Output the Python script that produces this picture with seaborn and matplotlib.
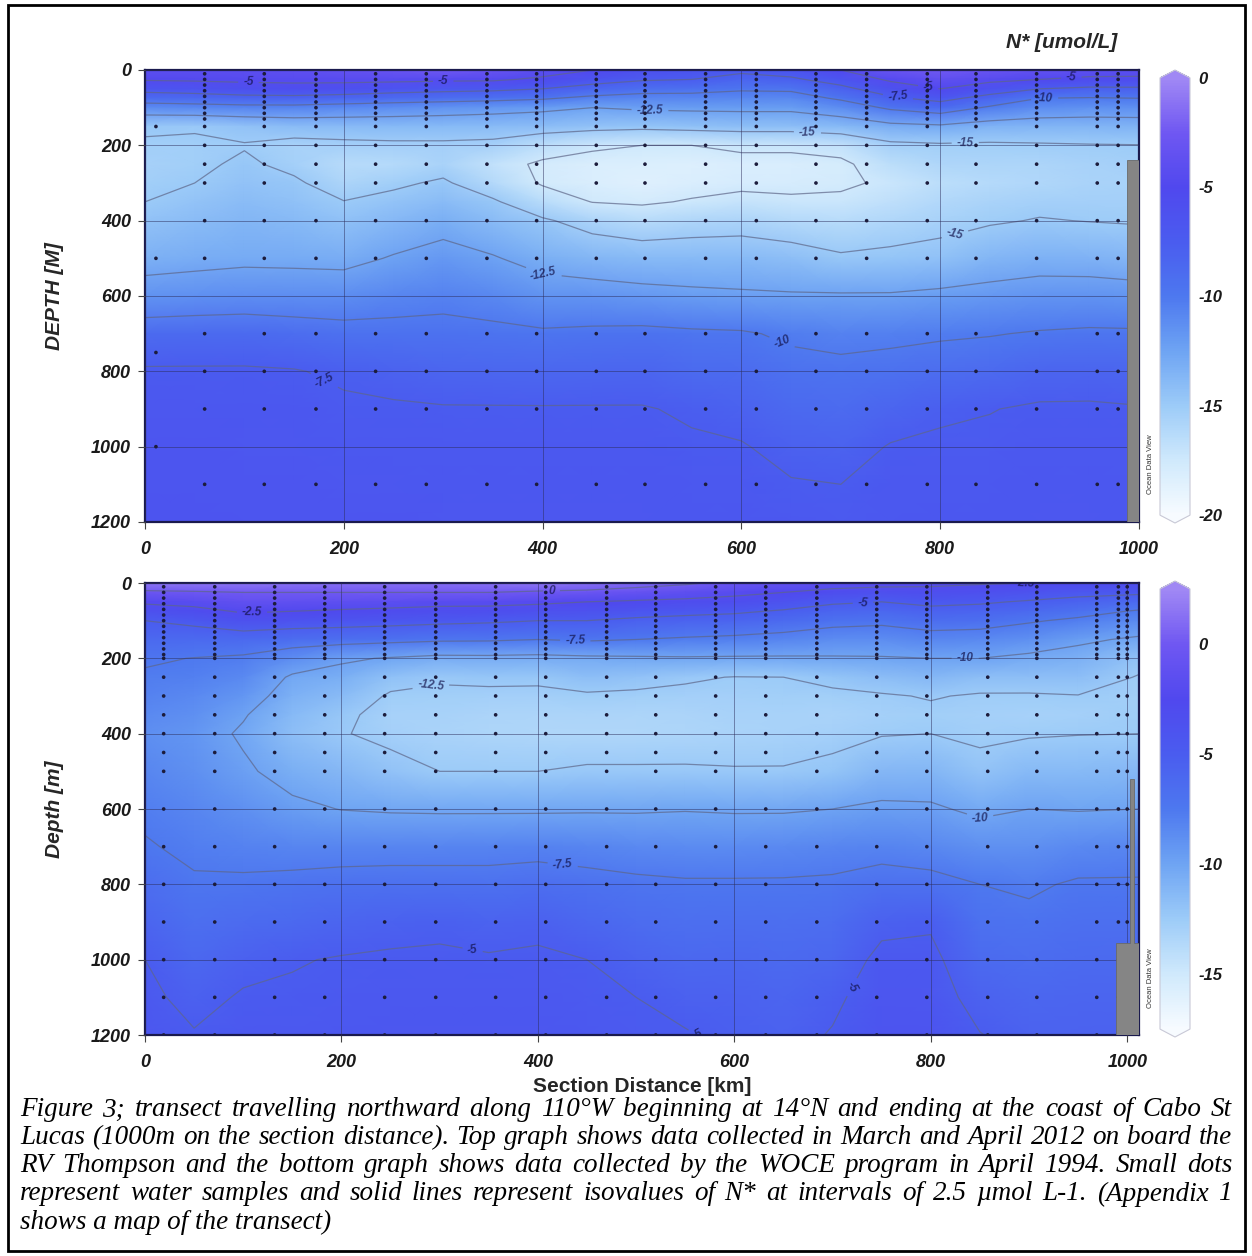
import numpy as np
import pandas as pd
import matplotlib
matplotlib.use("Agg")
import matplotlib.pyplot as plt
import seaborn as sns
from matplotlib.colors import LinearSegmentedColormap, Normalize
from matplotlib.patches import Rectangle, Polygon

sns.set_style("white")
plt.rcParams['font.family'] = ['Liberation Sans', 'DejaVu Sans']
plt.rcParams['axes.unicode_minus'] = False

# ---------------- data ----------------
depth_levels = [0, 25, 50, 75, 100, 150, 200, 250, 300, 350, 400, 500, 600, 700, 800, 900, 1000, 1100, 1200]

# 2012 section (RV Thompson) - N* profiles, one list per distance column
dist_2012 = [0, 50, 100, 150, 200, 250, 300, 350, 400, 450, 500, 550, 600, 650, 700, 750, 800, 850, 900, 950, 1000]
nstar_2012 = [
    [-4.0, -4.8, -6.7, -8.85, -11.1, -14.7, -15.25, -15.5, -15.25, -15.0, -14.45, -13.3, -11.55, -8.85, -7.3, -6.8, -6.7, -6.6, -6.5],
    [-4.0, -4.7, -6.4, -8.65, -10.9, -14.85, -15.25, -15.3, -15.0, -14.5, -14.05, -13.1, -11.35, -8.75, -7.3, -6.8, -6.7, -6.6, -6.5],
    [-4.0, -4.6, -5.9, -8.3, -10.7, -14.4, -15.1, -14.75, -14.4, -14.0, -13.65, -12.9, -11.2, -8.7, -7.3, -6.9, -6.8, -6.7, -6.6],
    [-3.8, -4.5, -5.8, -8.2, -10.7, -14.05, -15.6, -15.4, -14.75, -14.3, -13.85, -12.95, -11.25, -9.0, -7.4, -6.9, -6.8, -6.7, -6.6],
    [-3.5, -4.45, -6.0, -8.5, -11.0, -13.95, -15.45, -16.3, -15.8, -14.95, -14.35, -13.05, -11.25, -9.3, -7.8, -7.2, -7.0, -6.8, -6.7],
    [-3.0, -4.45, -6.5, -8.85, -11.25, -13.9, -15.35, -16.2, -15.3, -14.5, -13.8, -12.35, -10.8, -9.4, -8.1, -7.3, -7.0, -6.8, -6.7],
    [-2.5, -4.6, -6.8, -9.1, -11.5, -13.9, -15.35, -15.7, -14.75, -13.95, -13.2, -11.8, -10.55, -9.4, -8.3, -7.4, -7.1, -6.9, -6.8],
    [-3.0, -4.65, -7.0, -9.35, -11.75, -13.95, -15.5, -16.8, -16.1, -14.75, -13.95, -12.35, -10.9, -9.55, -8.4, -7.4, -7.1, -6.9, -6.8],
    [-4.0, -5.4, -7.5, -9.75, -12.05, -14.1, -16.55, -17.8, -17.7, -16.35, -14.75, -13.2, -11.5, -9.75, -8.5, -7.4, -7.1, -6.9, -6.8],
    [-5.0, -6.55, -8.4, -10.55, -12.5, -14.4, -17.2, -18.15, -18.2, -17.55, -15.75, -13.6, -11.6, -9.6, -8.4, -7.4, -7.1, -6.9, -6.8],
    [-6.0, -7.25, -9.15, -10.85, -12.2, -14.55, -17.5, -18.25, -18.45, -17.75, -16.3, -13.85, -11.85, -9.5, -8.35, -7.4, -7.1, -6.9, -6.8],
    [-6.5, -7.5, -9.3, -10.8, -12.1, -14.35, -17.5, -18.3, -18.15, -17.35, -15.9, -13.9, -12.05, -9.7, -8.7, -7.7, -7.3, -7.0, -6.9],
    [-7.0, -8.35, -9.75, -10.9, -12.05, -14.2, -17.15, -18.05, -17.9, -17.0, -15.75, -13.9, -12.2, -9.8, -8.9, -8.05, -7.4, -7.1, -6.9],
    [-6.5, -7.85, -9.65, -10.9, -12.05, -14.2, -17.15, -18.05, -17.95, -17.2, -16.15, -14.15, -12.3, -10.3, -9.4, -8.65, -7.95, -7.4, -7.1],
    [-5.0, -6.55, -8.1, -9.7, -11.25, -13.85, -16.8, -17.85, -17.75, -17.2, -16.4, -14.75, -12.3, -10.55, -9.55, -8.85, -8.2, -7.5, -7.2],
    [-3.0, -4.65, -6.25, -7.85, -9.65, -13.1, -15.45, -16.5, -17.25, -16.65, -16.0, -14.55, -12.3, -10.45, -9.3, -8.35, -7.4, -7.1, -7.0],
    [-2.5, -3.75, -5.0, -6.8, -8.75, -12.85, -15.25, -15.9, -16.5, -16.05, -15.6, -14.3, -12.05, -10.25, -9.0, -7.8, -7.2, -7.0, -6.9],
    [-3.0, -4.45, -6.25, -8.35, -10.3, -13.45, -15.3, -15.85, -16.2, -15.7, -15.2, -13.6, -11.85, -10.1, -8.8, -7.55, -7.2, -7.0, -6.9],
    [-3.5, -5.0, -7.5, -10.0, -11.25, -13.55, -15.2, -15.8, -16.0, -15.45, -14.9, -13.3, -11.6, -9.85, -8.35, -7.3, -7.0, -6.9, -6.8],
    [-3.8, -5.5, -7.95, -10.15, -11.45, -13.55, -15.1, -15.55, -15.7, -15.35, -15.05, -13.4, -11.55, -9.7, -8.25, -7.3, -7.0, -6.9, -6.8],
    [-4.0, -5.5, -7.9, -10.0, -11.4, -13.5, -15.05, -15.35, -15.55, -15.35, -15.15, -13.75, -11.65, -9.75, -8.4, -7.4, -7.1, -7.0, -6.9],
]

# 1994 section (WOCE)
dist_1994 = [0, 50, 100, 150, 200, 250, 300, 350, 400, 450, 500, 550, 600, 650, 700, 750, 800, 850, 900, 950, 1012]
nstar_1994 = [
    [1.5, -0.35, -2.15, -3.6, -5.0, -6.15, -7.25, -7.75, -8.1, -8.45, -8.8, -8.35, -7.85, -7.35, -6.55, -5.8, -5.0, -4.65, -4.3],
    [1.5, -0.2, -1.75, -3.2, -4.5, -6.2, -7.55, -7.95, -8.45, -8.85, -9.15, -8.9, -8.35, -7.85, -7.3, -6.65, -6.05, -5.45, -4.9],
    [1.5, 0.0, -1.15, -2.25, -3.6, -6.15, -7.8, -8.45, -9.15, -9.85, -10.25, -9.7, -8.85, -8.05, -7.25, -6.4, -5.45, -4.85, -4.6],
    [1.3, 0.0, -1.25, -2.5, -3.9, -6.5, -8.75, -10.25, -10.8, -11.35, -11.7, -10.7, -9.6, -8.25, -7.05, -6.1, -5.1, -4.8, -4.5],
    [1.2, 0.0, -1.4, -2.75, -4.05, -6.7, -9.7, -10.7, -11.45, -12.2, -12.4, -11.2, -10.05, -8.25, -6.85, -5.8, -4.9, -4.65, -4.4],
    [1.2, 0.0, -1.55, -3.0, -4.25, -6.95, -10.15, -11.85, -12.7, -13.0, -12.9, -11.95, -10.2, -8.25, -6.75, -5.5, -4.8, -4.55, -4.3],
    [1.2, 0.0, -1.8, -3.25, -4.5, -7.2, -10.55, -12.3, -12.8, -13.1, -13.15, -12.5, -10.25, -8.25, -6.75, -5.35, -4.75, -4.5, -4.3],
    [1.3, 0.0, -1.8, -3.35, -4.7, -7.25, -10.5, -12.15, -12.85, -13.25, -13.35, -12.5, -10.25, -8.2, -6.8, -5.65, -4.85, -4.6, -4.3],
    [1.5, -0.25, -2.1, -3.6, -5.0, -7.5, -10.6, -12.2, -12.85, -13.3, -13.4, -12.5, -10.25, -8.1, -6.6, -5.4, -4.75, -4.5, -4.3],
    [1.2, -0.4, -2.5, -3.75, -5.0, -7.25, -10.4, -11.7, -12.7, -13.25, -13.4, -12.3, -10.2, -8.25, -6.9, -5.95, -5.0, -4.75, -4.5],
    [0.8, -0.85, -2.8, -4.15, -5.4, -7.5, -10.3, -11.9, -12.8, -13.3, -13.4, -12.3, -10.2, -8.45, -7.15, -6.45, -5.7, -5.0, -4.7],
    [0.3, -1.35, -3.05, -4.45, -5.65, -7.75, -10.2, -12.3, -12.85, -13.25, -13.35, -12.3, -10.1, -8.55, -7.3, -6.7, -6.05, -5.45, -4.9],
    [-0.5, -1.95, -3.35, -4.7, -5.85, -7.95, -10.25, -12.55, -12.85, -13.1, -13.15, -12.4, -10.2, -8.55, -7.3, -6.6, -6.0, -5.6, -5.3],
    [-1.0, -2.5, -3.9, -5.2, -6.25, -8.25, -10.25, -12.5, -12.75, -13.05, -13.1, -12.4, -10.2, -8.45, -7.3, -6.7, -6.2, -5.8, -5.5],
    [-1.5, -3.15, -4.7, -5.85, -6.9, -8.6, -10.2, -12.1, -12.8, -13.15, -12.95, -12.1, -10.0, -8.35, -7.2, -6.55, -5.95, -5.3, -4.9],
    [-1.8, -3.45, -5.0, -6.05, -7.1, -8.7, -10.15, -11.6, -12.65, -12.95, -12.6, -11.2, -9.65, -8.15, -6.75, -5.4, -4.6, -4.25, -4.0],
    [-2.0, -3.3, -4.5, -5.6, -6.55, -8.35, -10.0, -11.2, -12.4, -12.8, -12.5, -11.1, -9.75, -8.4, -6.95, -5.2, -4.6, -4.3, -4.0],
    [-2.3, -3.55, -4.75, -5.75, -6.7, -8.45, -10.0, -11.65, -12.65, -12.95, -12.8, -12.0, -10.35, -8.9, -7.5, -6.85, -6.2, -5.55, -4.95],
    [-2.5, -3.9, -5.2, -6.25, -7.3, -8.9, -10.4, -11.7, -12.65, -13.0, -12.65, -11.4, -10.0, -8.85, -7.75, -7.1, -6.5, -6.0, -5.5],
    [-2.8, -4.35, -5.7, -6.8, -7.85, -9.65, -10.75, -11.65, -12.55, -12.9, -12.55, -11.4, -10.1, -8.5, -7.3, -6.7, -6.2, -5.8, -5.5],
    [-3.0, -4.65, -6.25, -7.7, -8.55, -10.3, -11.9, -12.6, -12.8, -12.65, -12.5, -11.25, -10.0, -8.35, -7.3, -6.7, -6.2, -5.8, -5.5],
]

# sample stations (km) and bottle depths (m)
stations_2012 = [60, 120, 172, 232, 283, 344, 394, 454, 503, 564, 615, 675, 726, 787, 836, 897, 958, 979]
bottles_2012 = [10, 25, 40, 55, 70, 85, 100, 115, 130, 150, 200, 250, 300, 400, 500, 700, 800, 900, 1100]
station_2012_first = 11
bottles_2012_first = [150, 500, 750, 1000]

stations_1994 = [19, 71, 132, 183, 244, 296, 357, 408, 470, 520, 581, 632, 684, 745, 796, 858, 908, 969, 991, 1000]
bottles_1994 = [10, 25, 40, 55, 70, 85, 100, 115, 130, 145, 160, 175, 190, 200, 250, 300, 350, 400, 450, 500,
                600, 700, 800, 900, 1000, 1100, 1200]

# contour levels and colourbar ranges
levels_2012 = [-20, -17.5, -15, -12.5, -10, -7.5, -5, -2.5, 0]
levels_1994 = [-17.5, -15, -12.5, -10, -7.5, -5, -2.5, 0, 2.5]
cbar_ticks_2012 = [0, -5, -10, -15, -20]
cbar_ticks_1994 = [0, -5, -10, -15]

# contour label anchor points (km, m)
labels_2012 = [(104, 40), (300, 8), (790, 8), (932, 22), (757, 80), (905, 72), (508, 107),
               (825, 173), (666, 190), (817, 458), (400, 560), (640, 728), (185, 800)]
labels_1994 = [(109, 83), (414, 21), (438, 155), (290, 255), (731, 53), (896, 16), (835, 200),
               (850, 625), (426, 731), (335, 952), (727, 1083), (569, 1184)]

# bathymetry (grey seafloor at the coast)
bathy_2012_km = [988, 988, 1000, 1000]
bathy_2012_m = [1200, 240, 240, 1200]
bathy_1994_km = [989, 989, 1003, 1003, 1007, 1007, 1012, 1012]
bathy_1994_m = [1200, 955, 955, 520, 520, 955, 955, 1200]

caption_lines = [
    "Figure 3; transect travelling northward along 110°W beginning at 14°N and ending at the coast of Cabo St",
    "Lucas (1000m on the section distance). Top graph shows data collected in March and April 2012 on board the",
    "RV Thompson and the bottom graph shows data collected by the WOCE program in April 1994. Small dots",
    "represent water samples and solid lines represent isovalues of N* at intervals of 2.5 µmol L-1. (Appendix 1",
    "shows a map of the transect)",
]

# ---------------- style ----------------
W, H = 1252, 1256
odv = LinearSegmentedColormap.from_list("odv", [
    (0.000, "#f7fbff"), (0.125, "#cfe9fc"), (0.250, "#9ccbf8"), (0.375, "#6ea4f3"),
    (0.500, "#4d78ef"), (0.625, "#4a5cef"), (0.750, "#5048ee"), (0.875, "#6f57f2"), (1.000, "#a088f4")])

fig = plt.figure(figsize=(W / 100, H / 100), dpi=100)


def fx(px):
    return px / W


def fy(py):
    return 1 - py / H


ax1 = fig.add_axes([fx(145), fy(522), fx(1139) - fx(145), 452 / H])
ax2 = fig.add_axes([fx(145), fy(1035), fx(1139) - fx(145), 452 / H])
cax1 = fig.add_axes([fx(1160), fy(523), 30 / W, 453 / H])
cax2 = fig.add_axes([fx(1160), fy(1037), 30 / W, 456 / H])


def draw_panel(ax, cax, dist, prof, levels, stations, bottles, extra_st, lab_pos,
               bkm, bm, xmax, vmin, vmax, cticks):
    Z = np.array(prof).T
    X, Y = np.meshgrid(dist, depth_levels)
    norm = Normalize(vmin=vmin, vmax=vmax)
    mesh = ax.pcolormesh(X, Y, Z, shading='gouraud', cmap=odv, norm=norm, zorder=1)
    cs = ax.contour(X, Y, Z, levels=levels, colors='#5e6688', linewidths=0.9, alpha=0.7,
                    linestyles='solid', negative_linestyles='solid', zorder=2)
    txts = ax.clabel(cs, inline=True, fmt='%g', fontsize=8.5, colors='#12124a', manual=lab_pos)
    for t in txts:
        t.set_fontweight('bold')
        t.set_fontstyle('italic')
    # sample dots
    rows = [(s, b) for s in stations for b in bottles]
    if extra_st is not None:
        rows += [(extra_st[0], b) for b in extra_st[1]]
    df = pd.DataFrame(rows, columns=['km', 'depth'])
    sns.scatterplot(data=df, x='km', y='depth', ax=ax, s=7, color='#1c1c3c', edgecolor='none',
                    zorder=4, legend=False)
    ax.add_patch(Polygon(list(zip(bkm, bm)), closed=True, fc='#858585', ec='#6a6a6a', lw=0.6, zorder=5))
    ax.set_xlim(0, xmax)
    ax.set_ylim(1200, 0)
    ax.set_xticks([0, 200, 400, 600, 800, 1000])
    ax.set_yticks([0, 200, 400, 600, 800, 1000, 1200])
    ax.grid(True, color='#2c2c5a', lw=0.7, alpha=0.5, zorder=3)
    ax.set_axisbelow(False)
    ax.set_xlabel('')
    ax.set_ylabel('')
    for sp in ax.spines.values():
        sp.set_color('#1a1a4e')
        sp.set_linewidth(1.6)
    ax.tick_params(axis='both', direction='out', length=5, width=0.8, color='#444',
                   left=True, bottom=True)
    ax.tick_params(axis='x', pad=9)
    ax.tick_params(axis='y', pad=5)
    for lbl in ax.get_xticklabels() + ax.get_yticklabels():
        lbl.set_fontweight('bold')
        lbl.set_fontstyle('italic')
        lbl.set_fontsize(13)
        lbl.set_color('#1a1a1a')
    cb = fig.colorbar(mesh, cax=cax, extend='both', extendfrac=0.018, ticks=cticks)
    cb.outline.set_edgecolor('#c9c9d6')
    cb.outline.set_linewidth(0.8)
    cax.tick_params(length=0, pad=6)
    cax.set_yticklabels([str(t) for t in cticks])
    for lbl in cax.get_yticklabels():
        lbl.set_fontweight('bold')
        lbl.set_fontstyle('italic')
        lbl.set_fontsize(12)
        lbl.set_color('#1a1a1a')
    return cb


draw_panel(ax1, cax1, dist_2012, nstar_2012, levels_2012, stations_2012, bottles_2012,
           (station_2012_first, bottles_2012_first), labels_2012,
           bathy_2012_km, bathy_2012_m, 1000, -20, 0, cbar_ticks_2012)
draw_panel(ax2, cax2, dist_1994, nstar_1994, levels_1994, stations_1994, bottles_1994,
           None, labels_1994, bathy_1994_km, bathy_1994_m, 1012, -17.5, 2.5, cbar_ticks_1994)

# texts
fig.text(fx(1062), fy(43), 'N* [umol/L]', fontsize=15, weight='bold', style='italic',
         ha='center', va='center')
fig.text(fx(55), fy(296), 'DEPTH [M]', rotation=90, fontsize=15, weight='bold', style='italic',
         ha='center', va='center')
fig.text(fx(55), fy(809), 'Depth [m]', rotation=90, fontsize=15, weight='bold', style='italic',
         ha='center', va='center')
fig.text(fx(642), fy(1086), 'Section Distance [km]', fontsize=15, weight='bold',
         ha='center', va='center')
for yc in (464, 978):
    fig.text(fx(1150), fy(yc), 'Ocean Data View', rotation=90, fontsize=5.5, color='#333333',
             ha='center', va='center')

# caption (justified)
fig.canvas.draw()
renderer = fig.canvas.get_renderer()
cap_kw = dict(family='Liberation Serif', style='italic', color='black')
x_left, x_right = 20, 1232
line_y = [1110, 1138, 1166, 1194, 1222]


def wwidth(s, fs):
    t = fig.text(0, 0, s, fontsize=fs, **cap_kw)
    w = t.get_window_extent(renderer).width
    t.remove()
    return w


fs = 17.5
maxw = max(wwidth(l, fs) for l in caption_lines)
fs = fs * (x_right - x_left) * 0.985 / maxw
for i, line in enumerate(caption_lines):
    words = line.split(' ')
    if i == len(caption_lines) - 1:
        fig.text(fx(x_left), fy(line_y[i]), line, fontsize=fs, ha='left', va='center', **cap_kw)
        continue
    widths = [wwidth(w_, fs) for w_ in words]
    gap = ((x_right - x_left) - sum(widths)) / (len(words) - 1)
    xpos = x_left
    for w_, wd in zip(words, widths):
        fig.text(fx(xpos), fy(line_y[i]), w_, fontsize=fs, ha='left', va='center', **cap_kw)
        xpos += wd + gap

fig.add_artist(Rectangle((fx(8), fy(1251)), (1245 - 8) / W, (1251 - 5) / H,
                         transform=fig.transFigure, fill=False, lw=2, ec='black'))

fig.savefig('out.png', dpi=100)
